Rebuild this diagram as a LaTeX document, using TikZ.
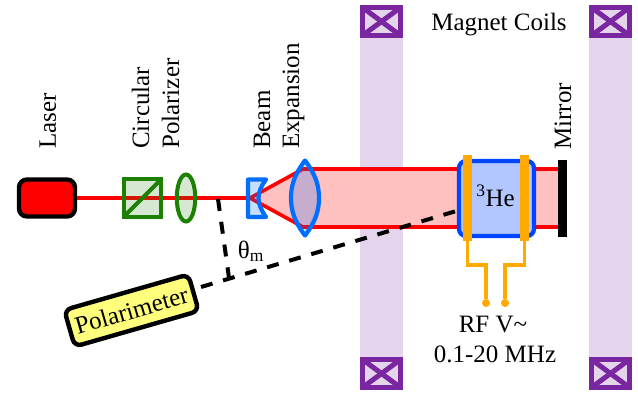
\documentclass[tikz,border=0pt]{standalone}
\usepackage{fontspec}
\usetikzlibrary{shapes.geometric}
\setmainfont{Liberation Serif}
\definecolor{coilband}{RGB}{228,212,236}
\definecolor{coilpurple}{RGB}{122,38,160}
\definecolor{beamred}{RGB}{255,0,0}
\definecolor{beampink}{RGB}{255,192,192}
\definecolor{optgreen}{RGB}{28,128,0}
\definecolor{lensblue}{RGB}{0,110,255}
\definecolor{cellblue}{RGB}{0,70,255}
\definecolor{cellfill}{RGB}{178,198,255}
\definecolor{wireorange}{RGB}{255,170,0}
\definecolor{polyellow}{RGB}{255,255,125}
\tikzset{
  x=1pt,y=-1pt,
  lbl/.style={font=\fontsize{25}{28}\selectfont,inner sep=0pt,text=black},
  hlbl/.style={lbl,anchor=base},
  vlbl/.style={lbl,rotate=90,anchor=base west},
  coilx/.style={draw=coilpurple,line width=5pt},
  beamline/.style={draw=beamred,line width=3.6pt},
  optic/.style={draw=optgreen,line width=4pt,fill=optgreen,fill opacity=.18,outer sep=0pt},
  lens/.style={draw=lensblue,line width=4.2pt,fill=lensblue,fill opacity=.22,line join=round},
  elec/.style={draw=none,fill=wireorange},
  wire/.style={draw=wireorange,line width=3.2pt},
  dashline/.style={draw=black,line width=4pt,dash pattern=on 12pt off 11pt},
}
\begin{document}
\begin{tikzpicture}
\useasboundingbox (0,0) rectangle (638,394);
% magnet coil bands
\foreach \xa in {360,589}{
  \fill[coilband] (\xa,5) rectangle ++(43,385);
  \foreach \ya in {5,357}{
    \draw[coilx,fill=coilband] (\xa+2.5,\ya+2.5) rectangle ++(38,28);
    \draw[coilx] (\xa+2.5,\ya+2.5) -- ++(38,28);
    \draw[coilx] (\xa+40.5,\ya+2.5) -- ++(-38,28);
  }
}
% beam
\coordinate (focus) at (250,198);
\coordinate (bt) at (303,169);
\coordinate (bb) at (303,227);
\coordinate (mt) at (558,169);
\coordinate (mb) at (558,227);
\fill[beampink] (focus) -- (bt) -- (mt) -- (mb) -- (bb) -- cycle;
\draw[beamline,line join=round] (mt) -- (bt) -- (focus) -- (bb) -- (mb);
\node[draw=black,line width=4.4pt,fill=beamred,rounded corners=8pt,minimum width=56pt,minimum height=37pt,inner sep=0pt] (laser) at (47,198) {};
\draw[beamline] (laser.east) -- (focus);
% circular polarizer
\node[optic,minimum width=37.5pt,minimum height=37.5pt,inner sep=0pt] (cube) at (142.5,198) {};
\draw[draw=optgreen,line width=4pt] (cube.north east) -- (cube.south west);
\node[optic,ellipse,minimum width=18.5pt,minimum height=47pt,inner sep=0pt] (pol) at (186,198) {};
% beam expansion
\draw[lens] (248,179.5) -- (266,179.5) .. controls (256,193) and (256,203) .. (266,217) -- (248,217) -- cycle;
\draw[lens] (305,160.5) .. controls (294,175) and (291,186) .. (291,198) .. controls (291,210) and (294,221) .. (305,235.5) .. controls (316,221) and (319,210) .. (319,198) .. controls (319,186) and (316,175) .. (305,160.5) -- cycle;
% polarimeter
\node[draw=black,line width=4.4pt,fill=polyellow,rounded corners=7pt,rotate=16,minimum width=129pt,minimum height=38pt,inner sep=0pt,lbl] (polm) at (131.5,310.5) {Polarimeter};
% dashed
\coordinate (vertex) at (229,278);
\coordinate (start) at (218,199);
\draw[dashline] (start) -- (vertex);
\draw[dashline] (201,287) -- (458,210.5);
% cell
\node[draw=cellblue,line width=4.2pt,fill=cellfill,rounded corners=7pt,minimum width=75pt,minimum height=75pt,inner sep=0pt] (cell) at (496.5,198.5) {};
\coordinate (e1) at (467.5,241);
\coordinate (e2) at (524.5,241);
\fill[elec] (463,155) rectangle (472,241);
\fill[elec] (520,155) rectangle (529,241);
\node[circle,fill=wireorange,inner sep=0pt,minimum size=8pt] (d1) at (486,303) {};
\node[circle,fill=wireorange,inner sep=0pt,minimum size=8pt] (d2) at (505,303) {};
\draw[wire] (e1) |- (486,265) -- (d1);
\draw[wire] (e2) |- (505,265) -- (d2);
% mirror
\fill[black] (558,160) rectangle (567,237);
% labels
\node[hlbl] (he) at (495.5,206) {\textsuperscript{3}He};
\node[vlbl] (lasl) at (56,149) {Laser};
\node[vlbl] (circ) at (149,149) {Circular};
\node[vlbl] (polz) at (179,149) {Polarizer};
\node[vlbl] (beam) at (270,149) {Beam};
\node[vlbl] (expa) at (299,149) {Expansion};
\node[vlbl] (mirr) at (571,150) {Mirror};
\node[hlbl] (mag) at (499,30) {Magnet Coils};
\node[hlbl] (theta) at (251,258) {θ\textsubscript{m}};
\node[hlbl] (rf) at (493,332) {RF V\textasciitilde};
\node[hlbl] (mhz) at (495,362) {0.1-20 MHz};
\end{tikzpicture}
\end{document}
